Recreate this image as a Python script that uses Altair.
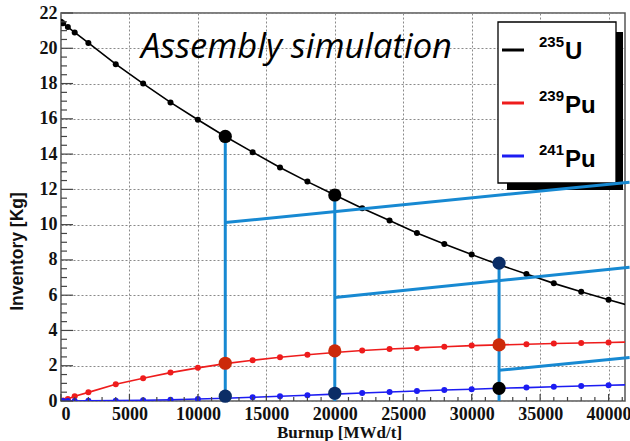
import altair as alt
import pandas as pd

# ---------------- data ----------------
burnup = [0, 150, 500, 1000, 2000, 4000, 6000, 8000, 10000, 12000, 14000, 16000,
          18000, 20000, 22000, 24000, 26000, 28000, 30000, 32000, 34000, 36000,
          38000, 40000, 42000]
u235 = [21.5, 21.42, 21.2, 20.9, 20.3, 19.1, 18.0, 16.93, 15.95, 15.0, 14.11, 13.24,
        12.44, 11.68, 10.93, 10.23, 9.53, 8.9, 8.3, 7.73, 7.2, 6.67, 6.19, 5.74, 5.3]
pu239 = [0.0, 0.03, 0.12, 0.27, 0.49, 0.95, 1.29, 1.61, 1.88, 2.12, 2.31, 2.48,
         2.62, 2.75, 2.86, 2.95, 3.01, 3.08, 3.14, 3.18, 3.22, 3.26, 3.29, 3.32, 3.35]
pu241 = [0.0, 0.0, 0.0, 0.003, 0.01, 0.02, 0.04, 0.07, 0.11, 0.16, 0.21, 0.27,
         0.33, 0.39, 0.45, 0.51, 0.57, 0.62, 0.67, 0.72, 0.76, 0.81, 0.85, 0.89, 0.93]

isotopes = ["235U", "239Pu", "241Pu"]
iso_mass = ["235", "239", "241"]
iso_symbol = ["U", "Pu", "Pu"]
iso_colors = ["#000000", "#ee1c1c", "#1c1cf2"]

# highlighted points
mark_x = [12000, 12000, 12000, 20000, 20000, 20000, 32000, 32000, 32000]
mark_y = [15.0, 2.14, 0.27, 11.68, 2.84, 0.44, 7.82, 3.18, 0.72]
mark_kind = ["black", "red", "navy", "black", "red", "navy", "navy", "red", "black"]
kind_names = ["black", "red", "navy"]
kind_colors = ["#000000", "#cc2a0a", "#0b2d66"]

# annotation (callout) lines
vert_x = [12000, 20000, 32000]
vert_top = [15.0, 11.68, 7.82]
slant_x0 = [12000, 20000, 32000]
slant_y0 = [10.12, 5.87, 1.74]
slant_x1 = [41533, 41533, 41533]
slant_y1 = [12.41, 7.58, 2.46]

x_major = list(range(0, 40001, 5000))
x_minor = [v for v in range(0, 41001, 1000) if v % 5000 != 0]
y_major = list(range(0, 23, 2))
y_minor = [v / 2 for v in range(0, 45) if v % 4 != 0]

title_text = "Assembly simulation"
x_title = "Burnup [MWd/t]"
y_title = "Inventory [Kg]"

# ---------------- tables ----------------
rows = []
for name, vals in zip(isotopes, [u235, pu239, pu241]):
    for b, v in zip(burnup, vals):
        rows.append({"burnup": b, "value": v, "isotope": name})
df_lines = pd.DataFrame(rows)
df_marks = pd.DataFrame({"burnup": mark_x, "value": mark_y, "kind": mark_kind})
df_vert = pd.DataFrame({"burnup": vert_x, "value": vert_top})
df_slant = pd.DataFrame({"burnup": slant_x0, "value": slant_y0,
                         "burnup2": slant_x1, "value2": slant_y1})
df_xmaj = pd.DataFrame({"burnup": x_major})
df_xmin = pd.DataFrame({"burnup": x_minor})
df_ymaj = pd.DataFrame({"value": y_major})
df_ymin = pd.DataFrame({"value": y_minor})

W, H = 564, 388
xscale = alt.Scale(domain=[0, 41200], nice=False, zero=False)
yscale = alt.Scale(domain=[0, 22], nice=False, zero=False)

xaxis = alt.Axis(values=x_major, format="d", title=x_title, grid=True,
                 gridDash=[2, 2], gridColor="#8a8a8a", gridWidth=1,
                 ticks=False, domain=False, labelPadding=4,
                 labelFont="Liberation Serif", labelFontWeight="bold",
                 labelFontSize=18, labelColor="#111",
                 titleFont="Liberation Serif", titleFontWeight="bold",
                 titleFontSize=17, titleColor="#111", titleX=278, titleY=36,
                 titleBaseline="alphabetic", titleAlign="center")
yaxis = alt.Axis(values=y_major, title=y_title, grid=True,
                 gridDash=[2, 2], gridColor="#8a8a8a", gridWidth=1,
                 ticks=False, domain=False, labelPadding=4,
                 labelFont="Liberation Serif", labelFontWeight="bold",
                 labelFontSize=18, labelColor="#111",
                 titleFont="Liberation Sans", titleFontWeight="bold",
                 titleFontSize=17.5, titleColor="#111", titleX=-44, titleY=238,
                 titleAngle=270, titleBaseline="middle", titleAlign="center")

X = lambda f="burnup": alt.X(f"{f}:Q", scale=xscale, axis=xaxis)
Y = lambda f="value": alt.Y(f"{f}:Q", scale=yscale, axis=yaxis)

color = alt.Color("isotope:N", scale=alt.Scale(domain=isotopes, range=iso_colors),
                  legend=None)

lines = alt.Chart(df_lines).mark_line(strokeWidth=1.6, clip=True).encode(
    x=X(), y=Y(), color=color, detail="isotope:N")
dots = alt.Chart(df_lines).mark_circle(size=36, opacity=1, clip=True).encode(
    x=X(), y=Y(), color=color)

ticks_xmaj = alt.Chart(df_xmaj).mark_rule(color="#444", strokeWidth=1.2).encode(
    x=X(), y=alt.value(H), y2=alt.value(H - 7))
ticks_xmin = alt.Chart(df_xmin).mark_rule(color="#444", strokeWidth=1.2).encode(
    x=X(), y=alt.value(H), y2=alt.value(H - 4))
ticks_ymaj = alt.Chart(df_ymaj).mark_rule(color="#444", strokeWidth=1.2).encode(
    y=Y(), x=alt.value(0), x2=alt.value(12))
ticks_ymin = alt.Chart(df_ymin).mark_rule(color="#444", strokeWidth=1.2).encode(
    y=Y(), x=alt.value(0), x2=alt.value(6))

callout = "#1789d2"
verts = alt.Chart(df_vert).mark_rule(color=callout, strokeWidth=3).encode(
    x=X(), y=Y(), y2=alt.datum(0))
slants = alt.Chart(df_slant).mark_rule(color=callout, strokeWidth=3).encode(
    x=X(), y=Y(), x2="burnup2:Q", y2="value2:Q")

big = alt.Chart(df_marks).mark_circle(size=175, opacity=1, strokeWidth=0).encode(
    x=X(), y=Y(),
    fill=alt.Fill("kind:N", scale=alt.Scale(domain=kind_names, range=kind_colors),
                  legend=None))

# legend (drawn by hand, with superscript mass numbers)
anchor = alt.Chart(pd.DataFrame({"a": [0]}))
leg = [
    anchor.mark_rect(color="black").encode(
        x=alt.value(446), x2=alt.value(562), y=alt.value(19), y2=alt.value(177)),
    anchor.mark_rect(fill="white", stroke="black", strokeWidth=1.3).encode(
        x=alt.value(437), x2=alt.value(555), y=alt.value(9), y2=alt.value(170)),
]
line_y = [37, 90, 143]
base_y = [46, 100, 154]
for i in range(3):
    leg.append(anchor.mark_rule(color=iso_colors[i], strokeWidth=3).encode(
        x=alt.value(441), x2=alt.value(463), y=alt.value(line_y[i])))
    leg.append(anchor.mark_text(text=iso_mass[i], font="Liberation Sans",
                                fontWeight="bold", fontSize=15, align="left",
                                baseline="alphabetic", color="black").encode(
        x=alt.value(478), y=alt.value(base_y[i] - 12)))
    leg.append(anchor.mark_text(text=iso_symbol[i], font="Liberation Sans",
                                fontWeight="bold", fontSize=24, align="left",
                                baseline="alphabetic", color="black").encode(
        x=alt.value(504), y=alt.value(base_y[i])))

title = anchor.mark_text(text=title_text, font="Open Sans", fontStyle="italic",
                         fontSize=34.5, align="left", baseline="alphabetic",
                         color="black").encode(x=alt.value(80), y=alt.value(45))

chart = alt.layer(
    lines, dots, ticks_xmaj, ticks_xmin, ticks_ymaj, ticks_ymin,
    *leg, verts, slants, big, title
).properties(
    width=W, height=H,
    autosize=alt.AutoSizeParams(type="none"),
    padding={"left": 61, "top": 13, "right": 5, "bottom": 40},
    background="white",
).configure_view(stroke="#555", strokeWidth=1.5)

chart.save("out.html", embed_options={"renderer": "svg", "actions": False})
